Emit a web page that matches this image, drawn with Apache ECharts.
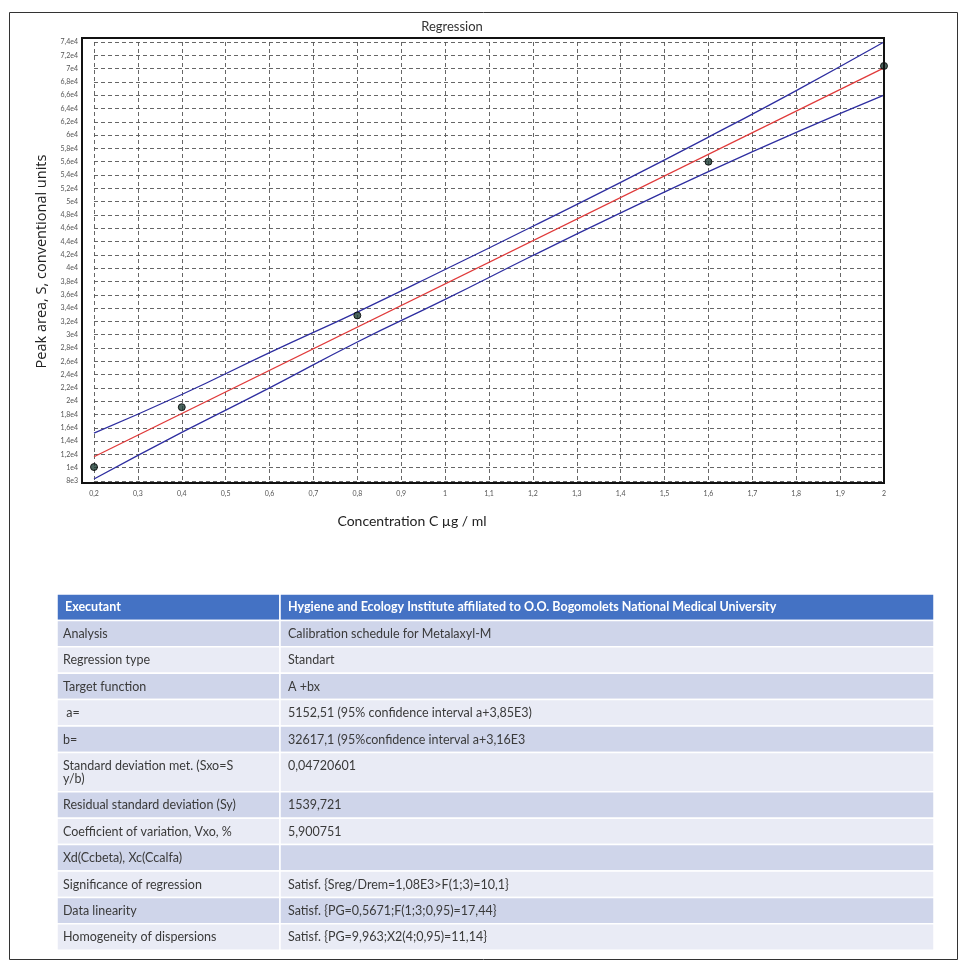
<!DOCTYPE html>
<html><head><meta charset="utf-8">
<script src="https://cdn.jsdelivr.net/npm/echarts@6/dist/echarts.min.js"></script>
<style>html,body{margin:0;padding:0;background:#fff}#c{width:966px;height:971px}</style>
</head><body><div id="c"></div>
<script>
// ---- data ----
const xTickLabels = ['0,2','0,3','0,4','0,5','0,6','0,7','0,8','0,9','1','1,1','1,2','1,3','1,4','1,5','1,6','1,7','1,8','1,9','2'];
const yTickLabels = ['8e3','1e4','1,2e4','1,4e4','1,6e4','1,8e4','2e4','2,2e4','2,4e4','2,6e4','2,8e4','3e4','3,2e4','3,4e4','3,6e4','3,8e4','4e4','4,2e4','4,4e4','4,6e4','4,8e4','5e4','5,2e4','5,4e4','5,6e4','5,8e4','6e4','6,2e4','6,4e4','6,6e4','6,8e4','7e4','7,2e4','7,4e4'];
const conc = [0.2, 0.4, 0.8, 1.6, 2.0];
const peakArea = [10100, 19100, 32900, 56000, 70400];
const fitX = [0.2, 2.0];
const fitY = [11650, 70100];
const bandX = [0.2, 0.4, 0.6, 0.8, 1.0, 1.2, 1.4, 1.6, 1.8, 2.0];
const bandUpper = [15200, 21000, 27300, 33400, 39800, 46300, 52900, 59700, 66700, 74000];
const bandLower = [8300, 15300, 22000, 28900, 35300, 41900, 48300, 54500, 60400, 66000];
const tableHeader = ['Executant', 'Hygiene and Ecology Institute affiliated to O.O. Bogomolets National Medical University'];
const tableLabels = ['Analysis','Regression type','Target function',' a=','b=','Standard deviation met. (Sxo=S\ny/b)','Residual standard deviation (Sy)','Coefficient of variation, Vxo, %','Xd(Ccbeta), Xc(Ccalfa)','Significance of regression','Data linearity','Homogeneity of dispersions'];
const tableValues = ['Calibration schedule for Metalaxyl-M','Standart','A +bx','5152,51 (95% confidence interval a+3,85E3)','32617,1 (95%confidence interval a+3,16E3','0,04720601','1539,721','5,900751','','Satisf. {Sreg/Drem=1,08E3>F(1;3)=10,1}','Satisf. {PG=0,5671;F(1;3;0,95)=17,44}','Satisf. {PG=9,963;X2(4;0,95)=11,14}'];

// ---- layout ----
const chart = echarts.init(document.getElementById('c'));
const pair = (xs, ys) => xs.map((x, i) => [x, ys[i]]);
const FONT = 'Lato, "Open Sans", sans-serif';

const graphics = [];
graphics.push({type:'rect', shape:{x:9.5,y:12.5,width:948,height:947}, style:{fill:'none', stroke:'#333', lineWidth:1}, silent:true});
graphics.push({type:'rect', shape:{x:82,y:38,width:802,height:445}, style:{fill:'none', stroke:'#111', lineWidth:2}, silent:true, z:10});
graphics.push({type:'text', style:{text:'Regression', x:452, y:27, textAlign:'center', textVerticalAlign:'middle', font:'13px '+FONT, fill:'#333'}});
graphics.push({type:'text', style:{text:'Concentration C \u00b5g / ml', x:412, y:521, textAlign:'center', textVerticalAlign:'middle', font:'14px '+FONT, fill:'#222'}});

const tX0 = 57, tX1 = 280, tX2 = 934;
const baseH = 26.4;
let ty = 594;
graphics.push({type:'rect', shape:{x:tX0,y:ty,width:tX1-tX0,height:baseH}, style:{fill:'#4472c4', stroke:'#fff', lineWidth:1.5}});
graphics.push({type:'rect', shape:{x:tX1,y:ty,width:tX2-tX1,height:baseH}, style:{fill:'#4472c4', stroke:'#fff', lineWidth:1.5}});
graphics.push({type:'text', style:{text:tableHeader[0], x:tX0+8, y:ty+baseH/2, textVerticalAlign:'middle', font:'bold 12.5px '+FONT, fill:'#fff'}});
graphics.push({type:'text', style:{text:tableHeader[1], x:tX1+8, y:ty+baseH/2, textVerticalAlign:'middle', font:'bold 12.5px '+FONT, fill:'#fff'}});
ty += baseH;
tableLabels.forEach((lab, i) => {
  const lines = lab.split('\n').length;
  const h = baseH + (lines - 1) * 13;
  const fill = i % 2 === 0 ? '#cfd5ea' : '#e9ebf5';
  graphics.push({type:'rect', shape:{x:tX0,y:ty,width:tX1-tX0,height:h}, style:{fill:fill, stroke:'#fff', lineWidth:1.5}});
  graphics.push({type:'rect', shape:{x:tX1,y:ty,width:tX2-tX1,height:h}, style:{fill:fill, stroke:'#fff', lineWidth:1.5}});
  graphics.push({type:'text', style:{text:lab, x:tX0+6, y:ty+7, textVerticalAlign:'top', font:'12.5px '+FONT, fill:'#3a3a3a', lineHeight:13}});
  graphics.push({type:'text', style:{text:tableValues[i], x:tX1+8, y:ty+7, textVerticalAlign:'top', font:'12.5px '+FONT, fill:'#3a3a3a', lineHeight:13}});
  ty += h;
});

const option = {
  backgroundColor: '#fff',
  animation: false,
  grid: {left:94, right:82, top:42, bottom:490},
  xAxis: {
    type:'value', min:0.2, max:2, interval:0.1,
    axisLine:{show:false}, axisTick:{show:false},
    axisLabel:{fontSize:7, color:'#555', margin:9, fontFamily:FONT,
      formatter: v => xTickLabels[Math.round((v - 0.2) / 0.1)] || ''},
    splitLine:{show:true, lineStyle:{color:'#555', type:[4,3], width:0.9}}
  },
  yAxis: {
    type:'value', min:8000, max:74000, interval:2000,
    name:'Peak area, S, conventional units', nameLocation:'middle', nameGap:42,
    nameTextStyle:{fontSize:14.5, color:'#222', fontFamily:'"Open Sans", sans-serif'},
    axisLine:{show:false}, axisTick:{show:false},
    axisLabel:{fontSize:7, color:'#555', margin:16, fontFamily:FONT,
      formatter: v => yTickLabels[Math.round((v - 8000) / 2000)] || ''},
    splitLine:{show:true, lineStyle:{color:'#555', type:[4,3], width:0.9}}
  },
  series: [
    {type:'line', data:pair(bandX, bandUpper), smooth:true, symbol:'none', lineStyle:{color:'#2e2ea0', width:1.3}, z:3},
    {type:'line', data:pair(bandX, bandLower), smooth:true, symbol:'none', lineStyle:{color:'#2e2ea0', width:1.3}, z:3},
    {type:'line', data:pair(fitX, fitY), symbol:'none', lineStyle:{color:'#e03a3a', width:1.3}, z:4},
    {type:'scatter', data:pair(conc, peakArea), symbol:'circle', symbolSize:7,
      itemStyle:{color:'#1e3d35', borderColor:'#000', borderWidth:1}, z:5}
  ],
  graphic: {elements: graphics}
};
chart.setOption(option);
</script>
</body></html>
